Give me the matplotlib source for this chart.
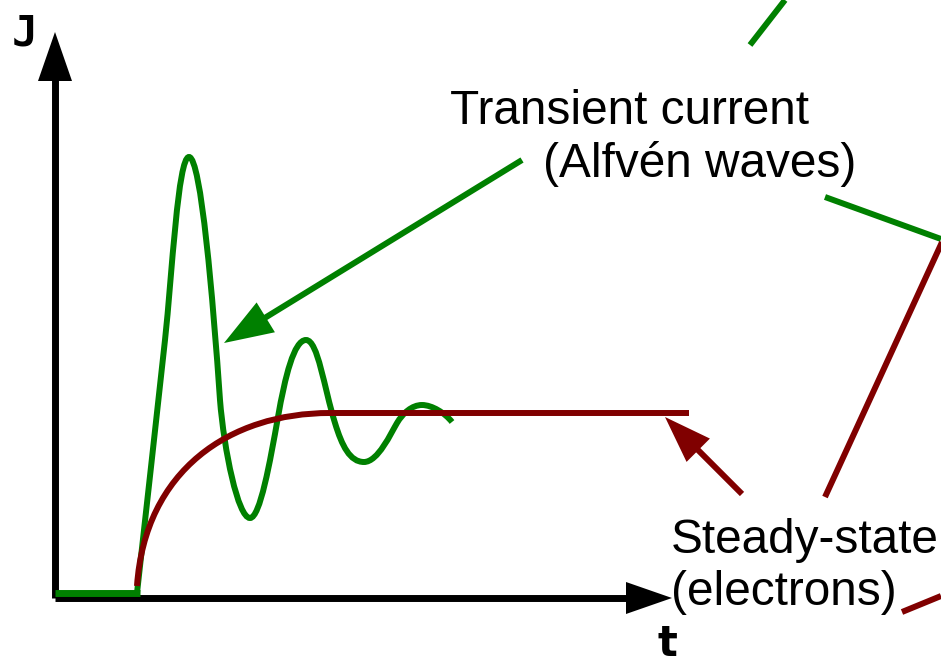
import numpy as np
import matplotlib
matplotlib.use("Agg")
import matplotlib.pyplot as plt
from matplotlib.path import Path
from matplotlib.patches import PathPatch

GREEN = '#008000'
RED = '#800000'

# diagram geometry, in picture pixels (y grows downward)
green_wave = [
    (137, 593),
    (145, 520), (158, 405), (165, 340),
    (172, 275), (178, 157), (189, 157),
    (201, 157), (213, 300), (220, 400),
    (224, 450), (238, 518), (250, 518),
    (260, 518), (270, 462), (278, 417),
    (285, 377), (294, 340), (306, 340),
    (318, 340), (324, 388), (335, 423),
    (342, 446), (350, 462), (364, 462),
    (378, 462), (391, 433), (397, 423),
    (403, 413), (412, 405), (422, 405),
    (432, 405), (445, 413), (452, 422),
]
red_rise = [(137, 586), (145, 470), (230, 413), (330, 413)]
red_flat_end = (689, 413)
green_base = [(55, 140), (593, 593)]

# arrows: tail, tip, head length, head width
axis_arrows = [((55, 598), (55, 32), 49, 34), ((55, 598), (672, 598), 46, 32)]
green_pointer = ((522, 160), (224, 343), 49, 35)
red_pointer = ((742, 494), (665, 417), 47, 33)

# loose line fragments on the right edge
green_bits = [((750, 45), (785, 0)), ((825, 197), (941, 239))]
red_bits = [((943, 240), (825, 497)), ((902, 612), (941, 596))]

labels = [
    ("Transient current", 450, 124),
    ("(Alfvén waves)", 543, 177),
    ("Steady-state", 671, 553),
    ("(electrons)", 671, 605),
]


def arrow(ax, tail, tip, hl, hw, color, lw):
    tail = np.array(tail, float)
    tip = np.array(tip, float)
    d = (tip - tail) / np.hypot(*(tip - tail))
    n = np.array([-d[1], d[0]])
    base = tip - d * hl
    ax.plot([tail[0], base[0] + d[0] * 2], [tail[1], base[1] + d[1] * 2],
            color=color, lw=lw, solid_capstyle='butt')
    tri = np.array([tip, base + n * hw / 2, base - n * hw / 2])
    ax.fill(tri[:, 0], tri[:, 1], color=color, lw=0)


def bezier(pts, extra=None):
    codes = [Path.MOVETO] + [Path.CURVE4] * (len(pts) - 1)
    verts = list(pts)
    if extra is not None:
        verts.append(extra)
        codes.append(Path.LINETO)
    return Path(verts, codes)


fig = plt.figure(figsize=(9.41, 6.66), dpi=100)
ax = fig.add_axes([0, 0, 1, 1])
ax.set_xlim(0, 941)
ax.set_ylim(666, 0)
ax.axis('off')

for tail, tip, hl, hw in axis_arrows:
    arrow(ax, tail, tip, hl, hw, 'black', 5)

ax.plot(green_base[0], green_base[1], color=GREEN, lw=5, solid_capstyle='butt')
ax.add_patch(PathPatch(bezier(green_wave), fill=False, ec=GREEN, lw=4.3,
                       capstyle='butt'))
ax.add_patch(PathPatch(bezier(red_rise, red_flat_end), fill=False, ec=RED, lw=4.3,
                       capstyle='butt'))

arrow(ax, *green_pointer, GREEN, 4.3)
arrow(ax, *red_pointer, RED, 4.3)

for a, b in green_bits:
    ax.plot([a[0], b[0]], [a[1], b[1]], color=GREEN, lw=4.3, solid_capstyle='butt')
for a, b in red_bits:
    ax.plot([a[0], b[0]], [a[1], b[1]], color=RED, lw=4.3, solid_capstyle='butt')

for s, x, y in labels:
    ax.text(x, y, s, fontsize=34.4, family='Liberation Sans', va='baseline', ha='left')

ax.text(12, 45, "J", fontsize=31, family='DejaVu Sans Mono', weight='bold',
        va='baseline', ha='left')
ax.text(658, 665, "t", fontsize=30, family='DejaVu Sans', weight='bold',
        va='bottom', ha='left')

fig.savefig('out.png', dpi=100)
